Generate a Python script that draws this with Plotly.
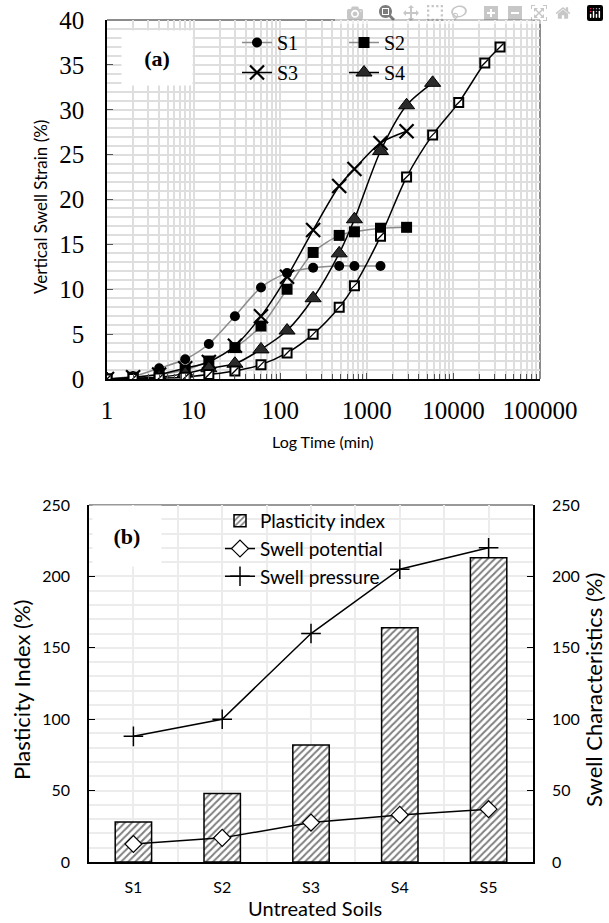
import plotly.graph_objects as go

# ---------------- data ----------------
time_min = [1, 2, 4, 8, 15, 30, 60, 120, 240, 480, 720, 1440, 2880, 5760, 11520, 23040, 34560]
s1 = [0, 0.3, 1.2, 2.2, 3.9, 7.0, 10.2, 11.8, 12.4, 12.6, 12.6, 12.6]
s2 = [0, 0.2, 0.5, 1.0, 2.0, 3.5, 5.9, 10.0, 14.1, 16.0, 16.4, 16.8, 16.9]
s3 = [0, 0.2, 0.5, 1.2, 1.9, 3.7, 7.0, 11.4, 16.6, 21.5, 23.4, 26.3, 27.6]
s4 = [0, 0.1, 0.2, 0.6, 1.2, 1.7, 3.3, 5.4, 9.0, 14.0, 17.8, 25.4, 30.5, 33.0]
s5 = [0, 0.05, 0.1, 0.2, 0.5, 0.9, 1.6, 2.9, 5.0, 8.0, 10.4, 15.9, 22.5, 27.2, 30.8, 35.2, 37.0]
x_ticks = [1, 10, 100, 1000, 10000, 100000]
x_tick_text = ["1", "10", "100", "1000", "10000", "100000"]

soils = ["S1", "S2", "S3", "S4", "S5"]
plasticity_index = [28, 48, 82, 164, 213]
swell_potential = [12.6, 16.9, 27.6, 33.0, 37.0]
swell_pressure = [88, 100, 160, 205, 220]

W, H = 609, 923
SERIF = "Liberation Serif"
SANS = "Lato"

def px(x):
    return x / W

def py(y):
    return 1 - y / H

fig = go.Figure()

# ---------------- top chart (a) ----------------
common_line = dict(shape="spline", smoothing=0.8)
fig.add_trace(go.Scatter(x=time_min[:len(s1)], y=s1, name="S1", mode="lines+markers",
                         line=dict(color="#8c8c8c", width=1.5, **common_line),
                         marker=dict(symbol="circle", size=10, color="black"),
                         xaxis="x", yaxis="y", legend="legend"))
fig.add_trace(go.Scatter(x=time_min[:len(s2)], y=s2, name="S2", mode="lines+markers",
                         line=dict(color="#8c8c8c", width=1.5, **common_line),
                         marker=dict(symbol="square", size=11, color="black"),
                         xaxis="x", yaxis="y", legend="legend"))
fig.add_trace(go.Scatter(x=time_min[:len(s3)], y=s3, name="S3", mode="lines+markers",
                         line=dict(color="black", width=1.5, **common_line),
                         marker=dict(symbol="x-thin", size=14, color="black",
                                     line=dict(color="black", width=2.2)),
                         xaxis="x", yaxis="y", legend="legend2"))
fig.add_trace(go.Scatter(x=time_min[:len(s4)], y=s4, name="S4", mode="lines+markers",
                         line=dict(color="black", width=1.5, **common_line),
                         marker=dict(symbol="triangle-up", size=14, color="#2a2a2a",
                                     line=dict(color="black", width=1)),
                         xaxis="x", yaxis="y", legend="legend2"))
fig.add_trace(go.Scatter(x=time_min, y=s5, name="S5", mode="lines+markers",
                         line=dict(color="black", width=1.5, **common_line),
                         marker=dict(symbol="square", size=9, color="white",
                                     line=dict(color="black", width=2)),
                         xaxis="x", yaxis="y", showlegend=False))
fig.add_trace(go.Scatter(x=time_min, y=s5, mode="markers", showlegend=False,
                         marker=dict(symbol="line-ne", size=7,
                                     line=dict(color="black", width=1.3)),
                         xaxis="x", yaxis="y", hoverinfo="skip"))

# ---------------- bottom chart (b) ----------------
xpos = list(range(len(soils)))
fig.add_trace(go.Bar(x=xpos, y=plasticity_index, name="Plasticity index", width=0.41,
                     marker=dict(color="white", line=dict(color="black", width=1.5),
                                 pattern=dict(shape="/", fgcolor="black", bgcolor="white",
                                              size=5, solidity=0.4)),
                     xaxis="x2", yaxis="y2", legend="legend3", legendgroup="a"))
fig.add_trace(go.Scatter(x=xpos, y=swell_potential, name="Swell potential", mode="lines+markers",
                         line=dict(color="black", width=1.5),
                         marker=dict(symbol="diamond", size=13, color="white",
                                     line=dict(color="black", width=1.2)),
                         xaxis="x2", yaxis="y3", legend="legend3", legendgroup="b"))
fig.add_trace(go.Scatter(x=xpos, y=swell_pressure, name="Swell pressure", mode="lines+markers",
                         line=dict(color="black", width=1.5),
                         marker=dict(symbol="cross-thin", size=14, color="black",
                                     line=dict(color="black", width=1.5)),
                         xaxis="x2", yaxis="y3", legend="legend3", legendgroup="c"))

GRID = "#dedede"
GRID2 = "#ececec"

top_x = [107, 540]
top_y = [20, 379]
bot_x = [89, 533]
bot_y = [505, 862]

def ann(text, x, y, size, family=SANS, angle=0, **kw):
    return dict(text=text, xref="paper", yref="paper", x=px(x), y=py(y),
                xanchor="center", yanchor="middle", textangle=angle, showarrow=False,
                font=dict(family=family, size=size, color="black"), **kw)

fig.update_layout(
    width=W, height=H,
    margin=dict(l=0, r=0, t=0, b=0, autoexpand=False),
    paper_bgcolor="white", plot_bgcolor="white",
    showlegend=True,
    xaxis=dict(domain=[px(top_x[0]), px(top_x[1])], type="log", range=[0, 5],
               tickvals=x_ticks, ticktext=x_tick_text,
               tickfont=dict(family=SERIF, size=25, color="black"),
               showgrid=True, gridcolor=GRID, gridwidth=1.5,
               showline=True, linecolor="black", linewidth=1.5,
               ticks="inside", ticklen=6, tickcolor="#555", ticklabelstandoff=8,
               minor=dict(dtick="D1", showgrid=True, gridcolor=GRID, gridwidth=1.5,
                          ticks="inside", ticklen=5, tickcolor="#555"),
               anchor="y", zeroline=False),
    yaxis=dict(domain=[py(top_y[1]), py(top_y[0])], range=[0, 40], dtick=5,
               tickfont=dict(family=SERIF, size=25, color="black"),
               showgrid=True, gridcolor=GRID, gridwidth=1.5,
               showline=True, linecolor="black", linewidth=1.5,
               ticks="inside", ticklen=6, tickcolor="#555", ticklabelstandoff=16,
               minor=dict(dtick=1, showgrid=True, gridcolor=GRID, gridwidth=1.5),
               anchor="x", zeroline=False),
    xaxis2=dict(domain=[px(bot_x[0]), px(bot_x[1])], range=[-0.5, 4.5],
                tickvals=xpos, ticktext=soils,
                tickfont=dict(family=SANS, size=16, color="black"),
                showgrid=True, gridcolor=GRID2, gridwidth=1.5,
                minor=dict(dtick=0.5, tick0=-0.5, showgrid=True, gridcolor=GRID2, gridwidth=1.5),
                showline=True, linecolor="black", linewidth=1.5,
                ticks="", ticklabelstandoff=10, anchor="y2", zeroline=False),
    yaxis2=dict(domain=[py(bot_y[1]), py(bot_y[0])], range=[0, 250], dtick=50,
                tickfont=dict(family=SANS, size=16, color="black"),
                showgrid=True, gridcolor=GRID2, gridwidth=1.5,
                minor=dict(dtick=10, showgrid=True, gridcolor=GRID2, gridwidth=1.5),
                showline=True, linecolor="black", linewidth=1.5,
                ticks="inside", ticklen=6, tickcolor="black", ticklabelstandoff=14,
                anchor="x2", zeroline=False),
    yaxis3=dict(range=[0, 250], dtick=50, overlaying="y2", side="right", anchor="x2",
                tickfont=dict(family=SANS, size=16, color="black"),
                showgrid=False, showline=True, linecolor="black", linewidth=1.5,
                ticks="inside", ticklen=6, tickcolor="black", ticklabelstandoff=14,
                zeroline=False),
    legend=dict(orientation="h", x=px(237), y=py(23), xanchor="left", yanchor="top",
                entrywidth=62, entrywidthmode="pixels", bgcolor="rgba(0,0,0,0)",
                font=dict(family=SERIF, size=20, color="black")),
    legend2=dict(orientation="h", x=px(237), y=py(53), xanchor="left", yanchor="top",
                 entrywidth=62, entrywidthmode="pixels", bgcolor="rgba(0,0,0,0)",
                 font=dict(family=SERIF, size=20, color="black")),
    legend3=dict(orientation="v", x=px(220), y=py(502), xanchor="left", yanchor="top",
                 traceorder="grouped", tracegroupgap=0, bgcolor="rgba(0,0,0,0)",
                 font=dict(family=SANS, size=19, color="black")),
    shapes=[
        dict(type="line", xref="paper", yref="paper", x0=px(top_x[0]), x1=px(top_x[1]),
             y0=py(top_y[0]), y1=py(top_y[0]), line=dict(color="#666", width=1.5), layer="between"),
        dict(type="line", xref="paper", yref="paper", x0=px(top_x[1]), x1=px(top_x[1]),
             y0=py(top_y[0]), y1=py(top_y[1]), line=dict(color="#666", width=1.5), layer="between"),
        dict(type="line", xref="paper", yref="paper", x0=px(bot_x[0]), x1=px(bot_x[1]),
             y0=py(bot_y[0]), y1=py(bot_y[0]), line=dict(color="#777", width=1.5), layer="between"),
    ],
    annotations=[
        ann("<b>(a)</b>", 157, 58, 22, family=SERIF, bgcolor="white", width=68, height=52),
        ann("<b>(b)</b>", 127, 536, 22, family=SERIF, bgcolor="white", width=66, height=58),
        ann("Vertical Swell Strain (%)", 40, 207, 17, angle=-90),
        ann("Log Time (min)", 323, 441, 16),
        ann("Plasticity Index (%)", 21, 690, 22, angle=-90),
        ann("Swell Characteristics (%)", 593, 690, 22, angle=-90),
        ann("Untreated Soils", 315, 908, 20),
    ],
)

fig.write_html("out.html", post_script="document.body.style.margin='0';")
